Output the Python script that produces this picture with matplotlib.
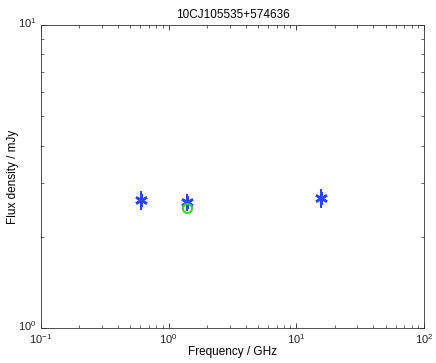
import numpy as np
import matplotlib
matplotlib.use("Agg")
import matplotlib.pyplot as plt
import matplotlib.transforms as mtransforms
from matplotlib.ticker import NullFormatter

plt.rcParams['font.family'] = ['Liberation Sans', 'DejaVu Sans']
plt.rcParams['mathtext.fontset'] = 'custom'
plt.rcParams['mathtext.rm'] = 'Liberation Sans'

title = "10CJ105535+574636"

# measured flux densities (blue asterisks with error bars)
freq_ghz = [0.61, 1.4, 15.7]
flux_mjy = [2.64, 2.60, 2.68]
flux_err = [0.19, 0.17, 0.20]

# catalogue value (green circle)
cat_freq = [1.4]
cat_flux = [2.49]

fig = plt.figure(figsize=(4.36, 3.63), dpi=100)
ax = fig.add_axes([0.094, 0.0964, 0.8785, 0.8347])

ax.errorbar(freq_ghz, flux_mjy, yerr=flux_err, fmt='none', ecolor='#2a44ff',
            elinewidth=1.5, capsize=0)
ax.plot(freq_ghz, flux_mjy, linestyle='none', marker=(6, 2, 0), markersize=9,
        markeredgewidth=1.8, color='#2a44ff')
ax.plot(cat_freq, cat_flux, linestyle='none', marker='o', markersize=6.5,
        markerfacecolor='none', markeredgecolor='#33dd11', markeredgewidth=1.5)

ax.set_xscale('log')
ax.set_yscale('log')
ax.set_xlim(0.1, 100)
ax.set_ylim(1, 10)
ax.xaxis.set_minor_formatter(NullFormatter())
ax.yaxis.set_minor_formatter(NullFormatter())

ax.tick_params(which='both', direction='in', top=True, right=True,
               labelsize=8, colors='#222222')
ax.tick_params(which='major', length=3.5, width=0.6)
ax.tick_params(which='minor', length=2, width=0.5)
ax.tick_params(axis='x', pad=3)
ax.tick_params(axis='y', pad=3)
for s in ax.spines.values():
    s.set_color('#333333')
    s.set_linewidth(0.6)

# MATLAB puts the y tick labels a little above the tick
lift = mtransforms.ScaledTranslation(0, 3 / 100, fig.dpi_scale_trans)
for lab in ax.get_yticklabels():
    lab.set_transform(lab.get_transform() + lift)

ax.set_xlabel('Frequency / GHz', fontsize=8.5, labelpad=0)
ax.set_ylabel('Flux density / mJy', fontsize=8.5)
ax.yaxis.set_label_coords(-0.058, 0.5)
ax.set_title(title, fontsize=8.5, pad=5)

fig.savefig('out.png', dpi=100)
